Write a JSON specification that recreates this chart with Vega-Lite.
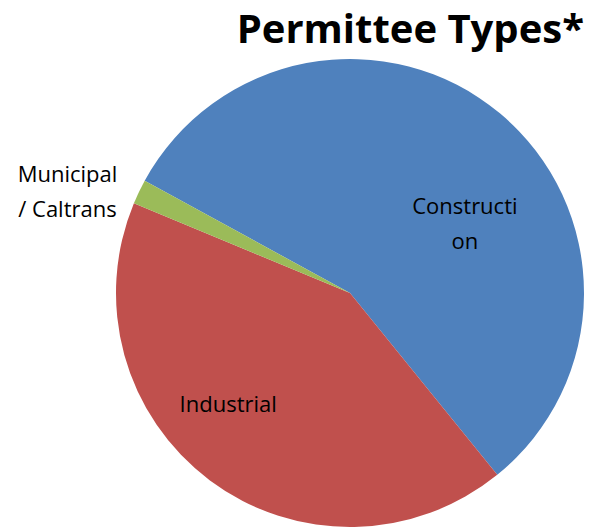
{
  "$schema": "https://vega.github.io/schema/vega-lite/v6.json",
  "width": 468,
  "height": 468,
  "autosize": {"type": "none"},
  "padding": {"left": 116, "top": 59, "right": 11, "bottom": 2},
  "background": "white",
  "title": {
    "text": "Permittee Types*",
    "anchor": "end",
    "font": "Open Sans",
    "fontSize": 40,
    "fontWeight": "bold",
    "color": "#000000",
    "offset": 8
  },
  "config": {"view": {"stroke": null}},
  "data": {
    "values": [
      {"type": "Construction", "label": "Constructi\non", "value": 56.2, "order": 1},
      {"type": "Industrial", "label": "Industrial", "value": 42.1, "order": 2},
      {"type": "Municipal / Caltrans", "label": "Municipal\n/ Caltrans", "value": 1.7, "order": 3}
    ]
  },
  "encoding": {
    "theta": {"field": "value", "type": "quantitative", "stack": true, "scale": {"range": [5.213, 11.496]}},
    "order": {"field": "order", "type": "quantitative"},
    "detail": {"field": "type", "type": "nominal"}
  },
  "layer": [
    {
      "mark": {"type": "arc", "outerRadius": 234},
      "encoding": {
        "color": {
          "field": "type",
          "type": "nominal",
          "scale": {"domain": ["Construction", "Industrial", "Municipal / Caltrans"], "range": ["#4F81BD", "#C0504D", "#9BBB59"]},
          "legend": null
        }
      }
    },
    {
      "mark": {"type": "text", "radius": 120, "dx": 38, "dy": 6.5, "font": "Open Sans", "fontSize": 22, "lineHeight": 35, "lineBreak": "\n", "align": "center", "baseline": "middle", "color": "#000000"},
      "encoding": {"text": {"condition": {"test": "datum.type === 'Construction'", "field": "label"}, "value": ""}}
    },
    {
      "mark": {"type": "text", "radius": 165, "dx": -23, "dy": -20, "font": "Open Sans", "fontSize": 22, "lineHeight": 35, "lineBreak": "\n", "align": "center", "baseline": "middle", "color": "#000000"},
      "encoding": {"text": {"condition": {"test": "datum.type === 'Industrial'", "field": "label"}, "value": ""}}
    },
    {
      "mark": {"type": "text", "radius": 300, "dx": -12, "dy": 11.5, "font": "Open Sans", "fontSize": 22, "lineHeight": 35, "lineBreak": "\n", "align": "center", "baseline": "middle", "color": "#000000"},
      "encoding": {"text": {"condition": {"test": "datum.type === 'Municipal / Caltrans'", "field": "label"}, "value": ""}}
    }
  ]
}
